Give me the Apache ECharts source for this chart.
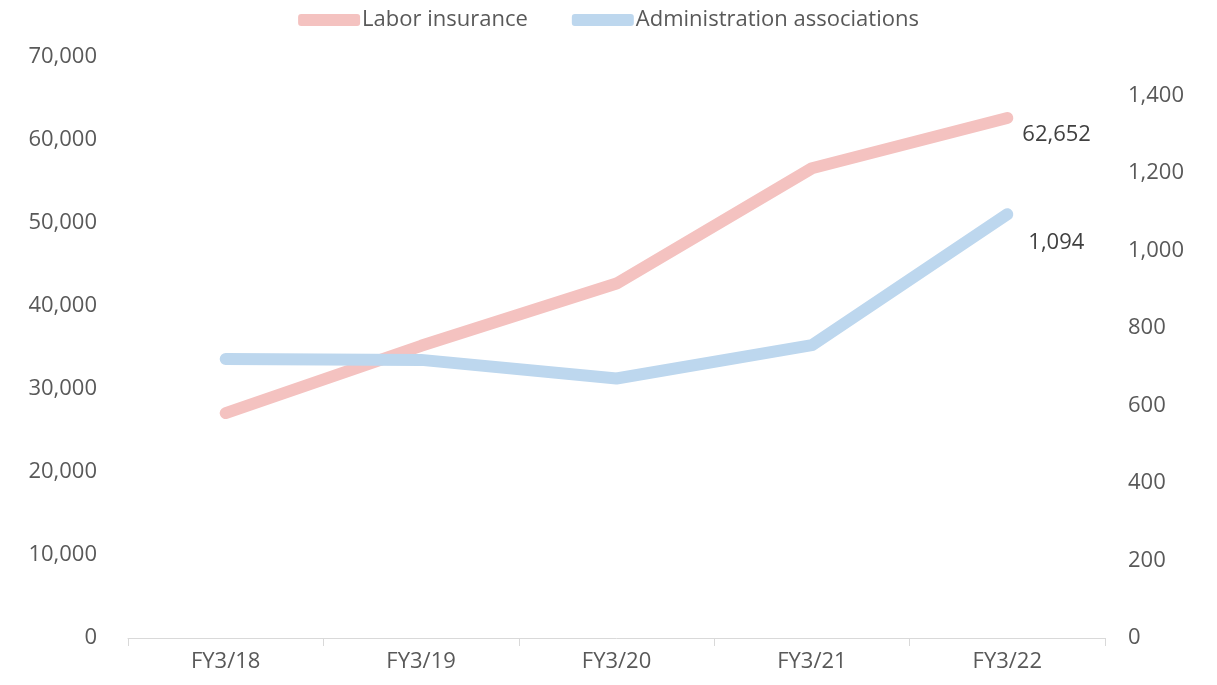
<!DOCTYPE html>
<html>
<head>
<meta charset="utf-8">
<script src="https://cdn.jsdelivr.net/npm/echarts@6/dist/echarts.min.js"></script>
<style>
html,body{margin:0;padding:0;background:#fff;}
#chart{width:1217px;height:685px;}
</style>
</head>
<body>
<div id="chart"></div>
<script>
const categories = ['FY3/18', 'FY3/19', 'FY3/20', 'FY3/21', 'FY3/22'];
const laborInsurance = [27100, 35200, 42700, 56600, 62652];
const adminAssociations = [720, 718, 670, 756, 1094];
const seriesNames = ['Labor insurance', 'Administration associations'];

const FONT = '"Open Sans", sans-serif';
const TXT = '#595959';
const FS = 22;
const fmt = v => v.toLocaleString('en-US');

const chart = echarts.init(document.getElementById('chart'));
chart.setOption({
  animation: false,
  legend: {
    top: 4,
    left: 'center',
    itemWidth: 62,
    itemHeight: 12,
    itemGap: 44,
    icon: 'roundRect',
    textStyle: {fontFamily: FONT, fontSize: FS, color: TXT, padding: [0, 0, 0, -3]},
    data: seriesNames
  },
  grid: {left: 128, right: 112, top: 57, bottom: 47},
  xAxis: {
    type: 'category',
    data: categories,
    boundaryGap: true,
    axisLine: {lineStyle: {color: '#D9D9D9', width: 1}},
    axisTick: {show: true, length: 8, lineStyle: {color: '#D9D9D9'}},
    axisLabel: {fontFamily: FONT, fontSize: FS, color: TXT, margin: 13}
  },
  yAxis: [
    {
      type: 'value', min: 0, max: 70000, interval: 10000,
      splitLine: {show: false},
      axisLine: {show: false}, axisTick: {show: false},
      axisLabel: {fontFamily: FONT, fontSize: FS, color: TXT, margin: 31, formatter: fmt}
    },
    {
      type: 'value', min: 0, max: 1500, interval: 200,
      splitLine: {show: false},
      axisLine: {show: false}, axisTick: {show: false},
      axisLabel: {fontFamily: FONT, fontSize: FS, color: TXT, margin: 23,
        showMaxLabel: false,
        formatter: v => v > 1400 ? '' : fmt(v)}
    }
  ],
  series: [
    {
      name: seriesNames[0], type: 'line', yAxisIndex: 0,
      data: laborInsurance,
      symbol: 'none',
      lineStyle: {width: 12, color: '#F4C2C0', cap: 'round', join: 'round'},
      itemStyle: {color: '#F4C2C0'},
      endLabel: {show: true, formatter: p => fmt(p.value), fontFamily: FONT, fontSize: FS,
        color: '#404040', offset: [7, 17]}
    },
    {
      name: seriesNames[1], type: 'line', yAxisIndex: 1,
      data: adminAssociations,
      symbol: 'none',
      lineStyle: {width: 12, color: '#BDD7EE', cap: 'round', join: 'round'},
      itemStyle: {color: '#BDD7EE'},
      endLabel: {show: true, formatter: p => fmt(p.value), fontFamily: FONT, fontSize: FS,
        color: '#404040', offset: [13, 28]}
    }
  ]
});
</script>
</body>
</html>
